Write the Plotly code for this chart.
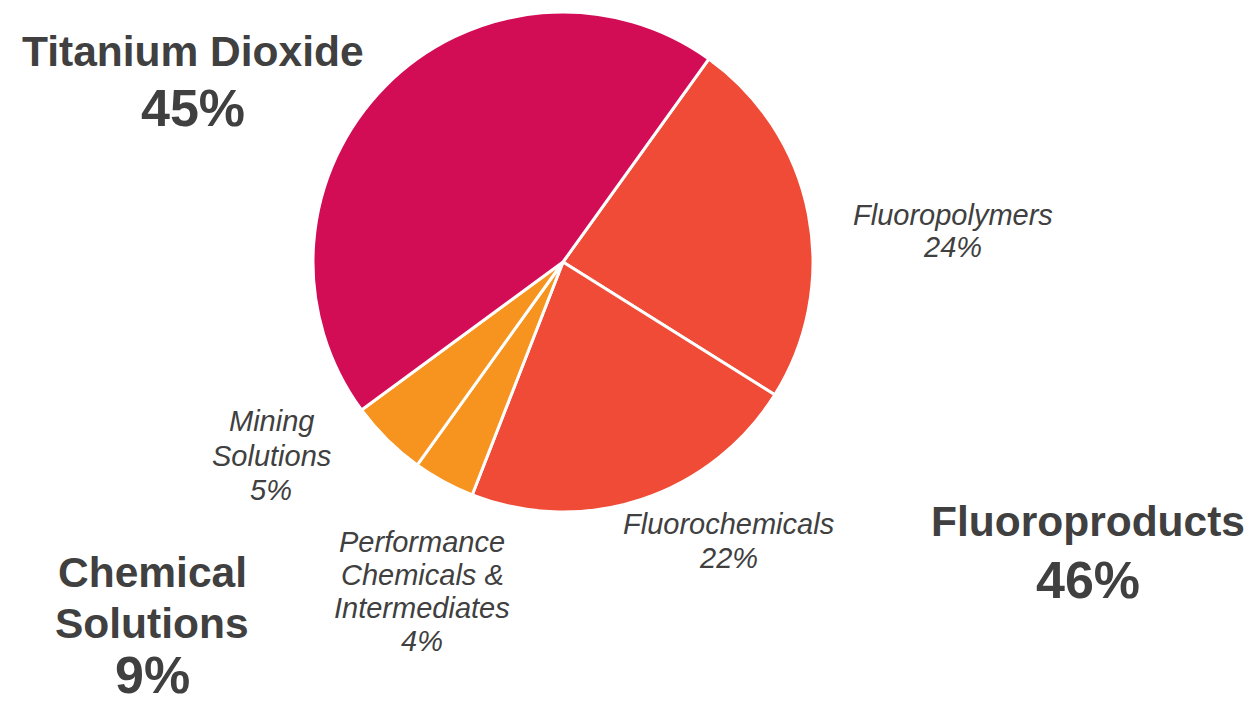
import plotly.graph_objects as go

# Segment revenue mix
segments = ["Fluoropolymers", "Fluorochemicals", "Performance Chemicals & Intermediates",
            "Mining Solutions", "Titanium Dioxide"]
shares = [24, 22, 4, 5, 45]
colors = ["#F04B37", "#F04B37", "#F7941F", "#F7941F", "#D20D55"]

# Business groups built from the segments above
groups = ["Titanium Dioxide", "Fluoroproducts", "Chemical Solutions"]
group_members = [[4], [0, 1], [2, 3]]

W, H = 1254, 703
TEXT = "#404040"
FONT = "Arial"

fig = go.Figure(go.Pie(
    labels=segments,
    values=shares,
    sort=False,
    direction="clockwise",
    rotation=35.7,
    marker=dict(colors=colors, line=dict(color="white", width=3)),
    textinfo="none",
    hoverinfo="label+percent",
    showlegend=False,
    domain=dict(x=[313 / W, 813 / W], y=[1 - 512 / H, 1 - 12 / H]),
))


def put(text, px, py, size, bold=False, italic=False):
    fig.add_annotation(
        x=px / W, y=1 - py / H, xref="paper", yref="paper",
        text=f"<b>{text}</b>" if bold else text,
        showarrow=False, xanchor="center", yanchor="middle",
        font=dict(family=FONT, size=size, color=TEXT,
                  style="italic" if italic else "normal"),
    )


def pct(v):
    return f"{v}%"


# Segment labels (italic), one line each
seg_lines = {
    0: (953, [("Fluoropolymers", 215)], 247),
    1: (728, [("Fluorochemicals", 524)], 558),
    2: (422, [("Performance", 542), ("Chemicals &", 575), ("Intermediates", 608)], 641),
    3: (271, [("Mining", 421), ("Solutions", 456)], 490),
}
for idx, (cx, lines, pct_y) in seg_lines.items():
    for txt, ly in lines:
        put(txt, cx, ly, 29, italic=True)
    put(pct(shares[idx]), cx, pct_y, 29, italic=True)

# Group labels (bold)
group_pos = {
    "Titanium Dioxide": (193, [("Titanium Dioxide", 51)], 108),
    "Fluoroproducts": (1088, [("Fluoroproducts", 521)], 580),
    "Chemical Solutions": (152, [("Chemical", 572), ("Solutions", 623)], 675),
}
for g, members in zip(groups, group_members):
    cx, lines, pct_y = group_pos[g]
    for txt, ly in lines:
        put(txt, cx, ly, 42.5, bold=True)
    put(pct(sum(shares[i] for i in members)), cx, pct_y, 52, bold=True)

fig.update_layout(
    width=W, height=H,
    margin=dict(l=0, r=0, t=0, b=0),
    paper_bgcolor="white",
    plot_bgcolor="white",
)

fig.write_html("out.html")
